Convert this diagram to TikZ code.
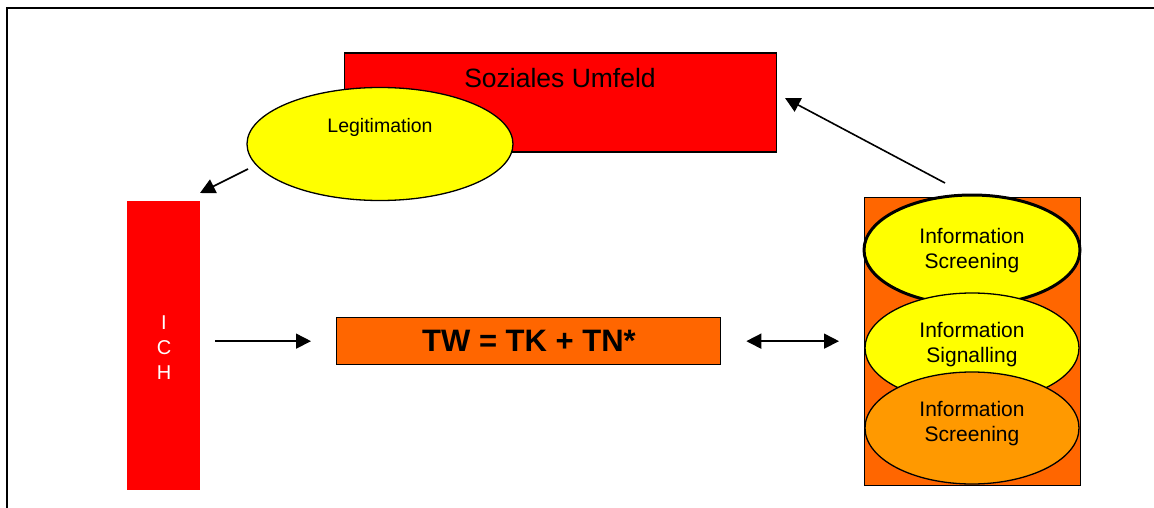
\documentclass[tikz,border=0pt]{standalone}
\usepackage{fontspec}
\setmainfont{Liberation Sans}
\usetikzlibrary{shapes.geometric,arrows.meta}
\definecolor{boxred}{HTML}{FF0000}
\definecolor{boxorange}{HTML}{FF6600}
\definecolor{ellyellow}{HTML}{FFFF00}
\definecolor{ellorange}{HTML}{FF9900}
\tikzset{
  tip/.tip={Triangle[length=15pt,width=15pt]},
  arr/.style={line width=1.6pt,-tip},
  darr/.style={line width=1.6pt,tip-tip},
  rectbox/.style={draw,line width=1.3pt,inner sep=0pt,anchor=north west},
  infoell/.style={ellipse,draw,line width=1.3pt,fill=ellyellow,inner sep=0pt,minimum width=215pt},
  lbl/.style={inner sep=0pt,font=\fontsize{21}{25}\selectfont,align=center},
}
\begin{document}
\begin{tikzpicture}[x=1pt,y=-1pt]
\useasboundingbox (0,0) rectangle (1154,508);
% outer frame
\draw[line width=2pt] (7,520) -- (7,8) -- (1170,8);

% social environment
\node[rectbox,fill=boxred,minimum width=432pt,minimum height=99pt] (umfeld) at (344,52.5) {};
\node[inner sep=0pt,anchor=base,font=\fontsize{26.5}{30}\selectfont] (umfeldtxt) at (560,88) {Soziales Umfeld};

% legitimation
\node[ellipse,draw,line width=1.3pt,fill=ellyellow,inner sep=0pt,minimum width=266pt,minimum height=113pt] (leg) at (380,144) {};
\node[inner sep=0pt,anchor=base,font=\fontsize{19.5}{23}\selectfont] (legtxt) at (380,133) {Legitimation};

% ICH
\node[fill=boxred,inner sep=0pt,anchor=north west,minimum width=73pt,minimum height=289pt] (ich) at (127,201) {};
\node[lbl,text=white,font=\fontsize{20}{25}\selectfont] (ichtxt) at (164,348) {I\\C\\H};

% central formula
\node[rectbox,fill=boxorange,minimum width=384pt,minimum height=47pt] (tw) at (336,317) {};
\node[inner sep=0pt,font=\bfseries\fontsize{31}{34}\selectfont] (twtxt) at (529,341) {TW = TK + TN*};

% information stack
\node[rectbox,fill=boxorange,minimum width=216pt,minimum height=288pt] (info) at (864,197) {};
\node[infoell,line width=3pt,minimum width=216pt,minimum height=110pt] (e1) at (972,250) {};
\node[lbl] (t1) at (972,250.5) {Information\\Screening};
\node[infoell,minimum width=214pt,minimum height=110pt] (e2) at (972,348) {};
\node[lbl] (t2) at (972,344.5) {Information\\Signalling};
\node[infoell,fill=ellorange,minimum width=214pt,minimum height=112pt] (e3) at (972,428) {};
\node[lbl] (t3) at (972,424) {Information\\Screening};

% connectors
\coordinate (legout) at (248,169);
\coordinate (ichin) at (200,193);
\draw[arr] (legout) -- (ichin);
\draw[arr] ([xshift=15pt]ich.east |- tw.west) -- ([xshift=-25pt]tw.west);
\draw[darr] ([xshift=25pt]tw.east) -- ([xshift=-25pt]info.west |- tw.east);
\coordinate (infoout) at (945,183);
\coordinate (umfeldin) at (785,98);
\draw[arr] (infoout) -- (umfeldin);
\end{tikzpicture}
\end{document}
